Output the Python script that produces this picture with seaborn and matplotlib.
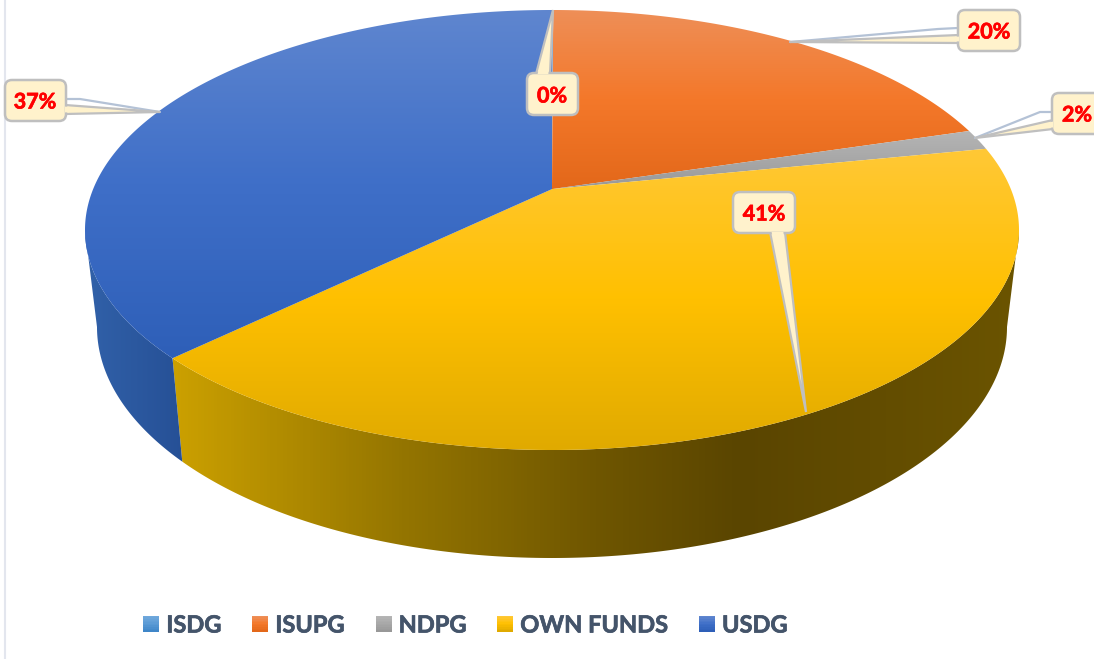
import numpy as np
import matplotlib
matplotlib.use("Agg")
import matplotlib.pyplot as plt
import matplotlib.patheffects as pe
from matplotlib.colors import LinearSegmentedColormap as LSC
from matplotlib.patches import Polygon, FancyBboxPatch, Rectangle, Patch
from matplotlib.legend_handler import HandlerBase
import seaborn as sns

categories = ["ISDG", "ISUPG", "NDPG", "OWN FUNDS", "USDG"]
values = [0.05, 20.3, 1.5, 40.95, 37.2]
palette = sns.color_palette(["#5b9bd5", "#ed7d31", "#a5a5a5", "#ffc000", "#4472c4"])

top_stops = {
    "ISDG": ["#6fa8dc", "#5b9bd5", "#3f86c8"],
    "ISUPG": ["#ee8f58", "#f4782a", "#e3681a"],
    "NDPG": ["#b5b5b5", "#a8a8a8", "#989898"],
    "OWN FUNDS": ["#ffc836", "#ffc000", "#e0aa00"],
    "USDG": ["#5f86cf", "#3f6fc8", "#2e5fb8"],
}
side_stops = {
    "OWN FUNDS": [(0, "#cba000"), (0.27, "#947500"), (0.5, "#6f5600"), (0.67, "#5a4500"), (1, "#6b5400")],
    "USDG": [(0, "#3161a9"), (1, "#265096")],
}

# callout geometry in pixel coordinates of the chart
boxes = [(527, 73, 51, 42), (958, 10, 62, 41), (1052, 93, 60, 41), (733, 192, 62, 41), (5, 80, 61, 41)]
tails = [
    [(536, 74), (553, 10), (550, 74)],
    [(959, 35), (790, 42), (959, 43)],
    [(1053, 120), (975, 138), (1053, 129)],
    [(770, 232), (806, 412), (785, 232)],
    [(65, 105), (160, 112), (65, 114)],
]
leaders = [
    None,
    [(958, 28), (938, 29), (790, 42)],
    [(1052, 112), (1040, 112), (975, 138)],
    None,
    [(66, 99), (80, 99), (160, 112)],
]
label_xy = [(552, 96), (989, 32), (1077, 115), (764, 214), (35, 102)]

sns.set_theme(style="white")
plt.rcParams["font.family"] = ["Lato", "DejaVu Sans"]
fig = plt.figure(figsize=(10.94, 6.59), dpi=100)
ax = fig.add_axes([0, 0, 1, 1])
W, H = 1094, 659
T = 0.186


def project(theta, cx, cy, a, b, t=T):
    """Perspective view of the pie's circle; theta runs clockwise from 12 o'clock."""
    x, y = np.sin(theta), np.cos(theta)
    d = 1 + t * y
    return cx + a * x * np.sqrt(1 - t * t) / d, cy - b * (y + t) / d


def fill_gradient(poly, stops, vertical, zorder):
    poly = np.asarray(poly)
    cmap = LSC.from_list("g", stops)
    x0, x1 = poly[:, 0].min(), poly[:, 0].max()
    y0, y1 = poly[:, 1].min(), poly[:, 1].max()
    g = np.linspace(0, 1, 256)
    arr = g[:, None] if vertical else g[None, :]
    im = ax.imshow(arr, cmap=cmap, extent=(x0, x1, y1, y0), aspect="auto", zorder=zorder,
                   interpolation="bilinear", origin="upper")
    clip = Polygon(poly, closed=True, transform=ax.transData, fc="none", ec="none")
    ax.add_patch(clip)
    im.set_clip_path(clip)


shares = np.array(values) / np.sum(values) * 2 * np.pi
edges = np.concatenate([[0], np.cumsum(shares)])
TOP = (552, 230, 467, 220)
BOT = (552, 327, 455, 231)
# visible front of the rim lies between the two silhouette points of the ellipse
front0, front1 = np.arccos(-T), 2 * np.pi - np.arccos(-T)

# Sides first
for name, s, e in zip(categories, edges[:-1], edges[1:]):
    s2, e2 = max(s, front0), min(e, front1)
    if e2 <= s2:
        continue
    th = np.linspace(s2, e2, 300)
    tx, ty = project(th, *TOP)
    bx, by = project(th, *BOT)
    poly = np.column_stack([np.r_[tx, bx[::-1]], np.r_[ty, by[::-1]]])
    fill_gradient(poly, side_stops[name], False, 1)

# Top faces
for name, s, e in zip(categories, edges[:-1], edges[1:]):
    th = np.linspace(s, e, 300)
    tx, ty = project(th, *TOP)
    cx0, cy0 = 552, 230 - 220 * T
    poly = np.column_stack([np.r_[cx0, tx], np.r_[cy0, ty]])
    fill_gradient(poly, top_stops[name], True, 2)

# Callouts
FILL, EDGE, LEAD = "#fff2cc", "#bfbfbf", "#b4c2d6"
for v, box, tail, lead, xy in zip(values, boxes, tails, leaders, label_xy):
    if lead is not None:
        ax.plot(*zip(*lead), color=LEAD, lw=1.6, zorder=3, solid_joinstyle="miter")
    ax.add_patch(Polygon(tail, closed=True, fc=FILL, ec=EDGE, lw=1.6, zorder=4, joinstyle="miter"))
    x, y, w, h = box
    ax.add_patch(FancyBboxPatch((x, y), w, h, boxstyle="round,pad=0,rounding_size=7",
                                fc=FILL, ec=EDGE, lw=1.8, zorder=5))
    # open the seam where the tail joins the box
    b1, tip, b2 = [np.array(p, float) for p in tail]
    k = 1.6 / np.linalg.norm(b2 - b1)
    i1, i2 = b1 + (b2 - b1) * k, b2 - (b2 - b1) * k
    f = 4.0 / np.linalg.norm(tip - i1)
    ax.add_patch(Polygon([i1, i2, i2 + (tip - i2) * f, i1 + (tip - i1) * f], closed=True,
                         fc=FILL, ec="none", zorder=6))
    ax.text(*xy, f"{round(v)}%", color="#ff0000", fontsize=15.5, fontweight="bold",
            ha="center", va="center", zorder=7,
            path_effects=[pe.withStroke(linewidth=0.5, foreground="#ff0000")])

# Left chart border
ax.plot([5, 5], [0, H], color="#e3e6ee", lw=1.5, zorder=0)


class GradientHandle(HandlerBase):
    def __init__(self, stops):
        super().__init__()
        self.stops = stops

    def create_artists(self, legend, orig, xd, yd, width, height, fontsize, trans):
        cmap = LSC.from_list("l", self.stops)
        n = 10
        side = width
        y0 = -yd + (height - side) / 2
        return [Rectangle((-xd, y0 + side * (n - 1 - i) / n), side, side / n + 0.3, fc=cmap(i / (n - 1)),
                          ec="none", transform=trans) for i in range(n)]


handles = [Patch(label=c) for c in categories]
fs = 17
px = fs * 100 / 72
leg = ax.legend(handles=handles, ncol=5, loc="center", bbox_to_anchor=(465.5, 625),
                bbox_transform=ax.transData, frameon=False,
                handlelength=16 / px, handleheight=16 / px, handletextpad=7 / px,
                columnspacing=31 / px, borderpad=0, labelcolor="#44546a",
                prop={"weight": "bold", "size": fs},
                handler_map={h: GradientHandle(top_stops[h.get_label()]) for h in handles})
leg.set_zorder(8)
for t in leg.get_texts():
    t.set_path_effects([pe.withStroke(linewidth=0.5, foreground="#44546a")])

ax.set_xlim(0, W)
ax.set_ylim(H, 0)
ax.axis("off")
fig.savefig("out.png", dpi=100, facecolor="white")
